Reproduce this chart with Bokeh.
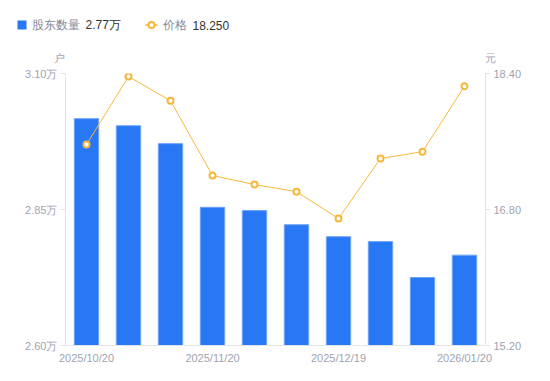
from bokeh.plotting import figure
from bokeh.models import Range1d, LinearAxis, FixedTicker, PrintfTickFormatter
from bokeh.embed import file_html
from bokeh.resources import INLINE
from bokeh.core.properties import value

# ---- data ----
dates = ["2025/10/20", "2025/10/31", "2025/11/10", "2025/11/20", "2025/11/28",
         "2025/12/10", "2025/12/19", "2025/12/31", "2026/01/10", "2026/01/20"]
holders = [3.017, 3.004, 2.971, 2.854, 2.848, 2.822, 2.800, 2.791, 2.725, 2.766]  # 万户
price = [17.565, 18.365, 18.08, 17.20, 17.094, 17.01, 16.694, 17.40, 17.48, 18.25]  # 元
x_tick_labels = ["2025/10/20", "2025/11/20", "2025/12/19", "2026/01/20"]
left_ticks = [2.60, 2.85, 3.10]
right_ticks = [15.20, 16.80, 18.40]

BLUE = "#2878f5"
ORANGE = "#f8b73a"
AXIS_TXT = "#a0a3b1"
AXIS_LINE = "#e3e4e8"
FONT = "Liberation Sans"

xs = list(range(len(holders)))

# ---- header strip: legend + unit labels (page pixel coordinates) ----
HH = 65
lg = figure(width=550, height=HH, x_range=Range1d(0, 550), y_range=Range1d(HH, 0),
            x_axis_type=None, y_axis_type=None, output_backend="svg",
            toolbar_location=None, min_border=0)
lg.outline_line_color = None
lg.xgrid.visible = False
lg.ygrid.visible = False
LY = 24.5
lg.rect(x=[21.5], y=[LY], width=9, height=9, fill_color=BLUE, line_color=None)
lg.text(x=[31], y=[LY], text=["股东数量"], text_baseline="middle", text_align="left",
        text_font=value(FONT), text_font_size="12px", text_color="#85889a")
lg.text(x=[85], y=[LY], text=[f"{holders[-1]:.2f}万"], text_baseline="middle",
        text_align="left", text_font=value(FONT), text_font_size="12px", text_color="#333333")
lg.line(x=[145, 157], y=[LY, LY], line_color=ORANGE, line_width=1.5)
lg.scatter(x=[151], y=[LY], size=6, fill_color="white", line_color=ORANGE, line_width=2)
lg.text(x=[162], y=[LY], text=["价格"], text_baseline="middle", text_align="left",
        text_font=value(FONT), text_font_size="12px", text_color="#85889a")
lg.text(x=[192], y=[LY], text=[f"{price[-1]:.3f}"], text_baseline="middle",
        text_align="left", text_font=value(FONT), text_font_size="12px", text_color="#333333")
lg.text(x=[58.5, 490], y=[57, 57], text=["户", "元"], text_baseline="middle",
        text_align="center", text_font=value(FONT), text_font_size="11px",
        text_color=AXIS_TXT)

# ---- main chart ----
p = figure(width=550, height=381 - HH, x_range=Range1d(-0.5, 9.5), y_range=Range1d(2.6, 3.1),
           output_backend="svg", toolbar_location=None,
           min_border_left=65, min_border_right=65, min_border_top=73 - HH,
           min_border_bottom=36)
p.outline_line_color = None
p.xgrid.visible = False
p.ygrid.visible = False
p.extra_y_ranges = {"price": Range1d(15.2, 18.4)}

p.vbar(x=xs, top=holders, bottom=2.6, width=0.58, fill_color=BLUE,
       line_color="#6ea2f8", line_width=1)
p.line(xs, price, y_range_name="price", line_color=ORANGE, line_width=1)
p.scatter(xs, price, y_range_name="price", size=6, fill_color="white",
          line_color=ORANGE, line_width=2)

def style_axis(ax):
    ax.axis_line_color = AXIS_LINE
    ax.major_tick_line_color = AXIS_LINE
    ax.minor_tick_line_color = None
    ax.major_tick_in = 0
    ax.major_label_text_color = AXIS_TXT
    ax.major_label_text_font = FONT
    ax.major_label_text_font_size = "11px"

la = p.yaxis[0]
style_axis(la)
la.ticker = FixedTicker(ticks=left_ticks)
la.formatter = PrintfTickFormatter(format="%.2f万")
la.major_tick_out = 5
la.major_label_standoff = 3

ra = LinearAxis(y_range_name="price", ticker=FixedTicker(ticks=right_ticks),
                formatter=PrintfTickFormatter(format="%.2f"))
style_axis(ra)
ra.major_tick_out = 4
ra.major_label_standoff = 4
p.add_layout(ra, "right")

tick_pos = [dates.index(d) for d in x_tick_labels]
ba = p.xaxis[0]
style_axis(ba)
ba.ticker = FixedTicker(ticks=tick_pos)
ba.major_label_overrides = {t: s for t, s in zip(tick_pos, x_tick_labels)}
ba.major_tick_line_color = None
ba.major_tick_out = 0
ba.major_label_standoff = 6

open("out.html", "w").write(file_html([lg, p], INLINE))
